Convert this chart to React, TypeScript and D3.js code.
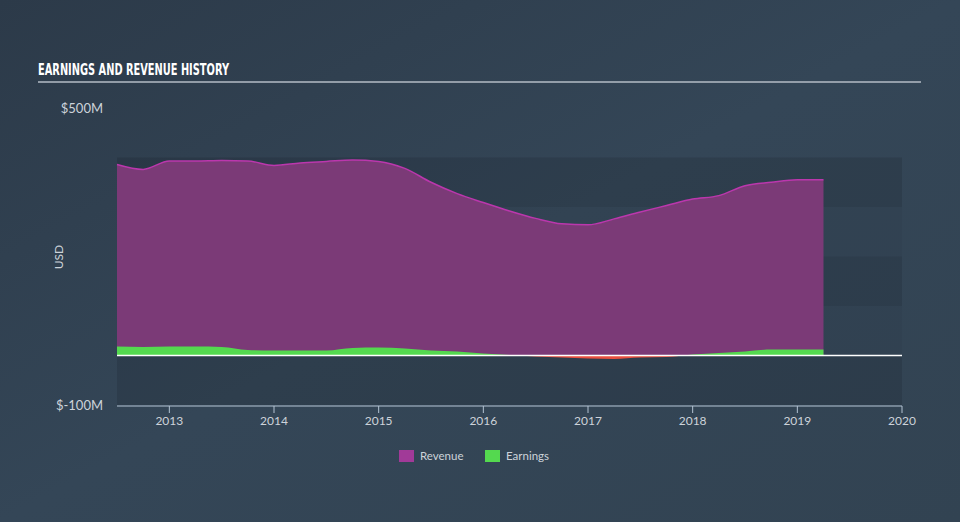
import React from "react";
import * as d3 from "d3";

const periods = [
  2012.5, 2012.75, 2013.0, 2013.25, 2013.5, 2013.75, 2014.0, 2014.25, 2014.5, 2014.75,
  2015.0, 2015.25, 2015.5, 2015.75, 2016.0, 2016.25, 2016.5, 2016.75, 2017.0, 2017.25,
  2017.5, 2017.75, 2018.0, 2018.25, 2018.5, 2018.75, 2019.0, 2019.25,
];
const revenue = [
  386, 376, 393, 393, 394, 393, 384, 389, 392, 395,
  392, 378, 350, 327, 309, 292, 277, 266, 264, 276,
  290, 303, 316, 323, 343, 350, 355, 355,
];
const earnings = [
  18, 17, 18, 18, 17, 11, 10, 10, 10, 15,
  16, 14, 10, 8, 4, 1, -2, -4, -6, -7,
  -4, -3, 2, 5, 8, 12, 12, 12,
];
const xTicks = [2013, 2014, 2015, 2016, 2017, 2018, 2019, 2020];
const yTickLabels = [
  { v: 500, label: "$500M" },
  { v: -100, label: "$-100M" },
];
const bands = [
  [300, 400],
  [100, 200],
  [-100, 0],
];
const legendItems = [
  { label: "Revenue", color: "#a13a98" },
  { label: "Earnings", color: "#54d94f" },
];

const W = 960;
const H = 522;
const FONT = "Lato, 'Open Sans', 'DejaVu Sans', sans-serif";

export default function App() {
  const x = d3.scaleLinear().domain([2012.5, 2020]).range([117, 902]);
  const y = d3.scaleLinear().domain([-100, 500]).range([405, 108]);
  const data = periods.map((p, i) => ({ p, r: revenue[i], e: earnings[i] }));

  const revArea = d3
    .area<any>()
    .x((d) => x(d.p))
    .y0(y(0))
    .y1((d) => y(d.r))
    .curve(d3.curveMonotoneX);
  const revLine = d3
    .line<any>()
    .x((d) => x(d.p))
    .y((d) => y(d.r))
    .curve(d3.curveMonotoneX);
  const earnArea = d3
    .area<any>()
    .x((d) => x(d.p))
    .y0(y(0))
    .y1((d) => y(d.e))
    .curve(d3.curveMonotoneX);

  const x0 = x(2012.5);
  const x1 = x(2020);

  return (
    <svg
      width={W}
      height={H}
      style={{ position: "absolute", left: 0, top: 0, display: "block" }}
      xmlns="http://www.w3.org/2000/svg"
    >
      <defs>
        <linearGradient id="bg" x1="0" y1="0" x2="1" y2="1">
          <stop offset="0%" stopColor="#2c3a49" />
          <stop offset="50%" stopColor="#344657" />
          <stop offset="100%" stopColor="#324352" />
        </linearGradient>
        <clipPath id="abovezero">
          <rect x={0} y={0} width={W} height={y(0)} />
        </clipPath>
        <clipPath id="belowzero">
          <rect x={0} y={y(0)} width={W} height={H - y(0)} />
        </clipPath>
      </defs>
      <rect x={0} y={0} width={W} height={H} fill="url(#bg)" />

      {/* title */}
      <text
        x={38}
        y={75}
        fill="#ffffff"
        fontFamily="'Liberation Sans Narrow', 'DejaVu Sans Condensed', 'Roboto Condensed', sans-serif"
        fontWeight="bold"
        fontSize={16}
        textLength={191}
        lengthAdjust="spacingAndGlyphs"
      >
        EARNINGS AND REVENUE HISTORY
      </text>
      <line x1={38} x2={921} y1={82} y2={82} stroke="#b4bcc6" strokeWidth={1.5} />

      {/* plot background */}
      <rect x={x0} y={y(400)} width={x1 - x0} height={y(-100) - y(400)} fill="rgba(0,0,0,0.035)" />
      {bands.map(([a, b], i) => (
        <rect
          key={i}
          x={x0}
          y={y(b)}
          width={x1 - x0}
          height={y(a) - y(b)}
          fill="rgba(0,0,0,0.07)"
        />
      ))}

      {/* revenue */}
      <path d={revArea(data) || ""} fill="#7b3a77" />
      <path d={revLine(data) || ""} fill="none" stroke="#bb37ad" strokeWidth={1.5} />

      {/* earnings */}
      <path d={earnArea(data) || ""} fill="#54d94f" clipPath="url(#abovezero)" />
      <path d={earnArea(data) || ""} fill="#e8503f" clipPath="url(#belowzero)" />

      {/* zero line */}
      <line x1={x0} x2={x1} y1={y(0)} y2={y(0)} stroke="#ffffff" strokeWidth={1.5} />

      {/* y labels */}
      {yTickLabels.map((t) => (
        <text
          key={t.label}
          x={103}
          y={y(t.v)}
          dy="0.35em"
          textAnchor="end"
          fill="#cdd3da"
          fontFamily={FONT}
          fontSize={13}
        >
          {t.label}
        </text>
      ))}
      <text
        transform={`translate(63,257) rotate(-90)`}
        textAnchor="middle"
        fill="#cdd3da"
        fontFamily={FONT}
        fontSize={12}
      >
        USD
      </text>

      {/* x axis */}
      <line x1={x0} x2={x1} y1={406} y2={406} stroke="#b4c3d3" strokeWidth={1.2} />
      {xTicks.map((t) => (
        <g key={t}>
          <line x1={x(t)} x2={x(t)} y1={406} y2={413} stroke="#b4c3d3" strokeWidth={1} />
          <text
            x={x(t)}
            y={425}
            textAnchor="middle"
            fill="#cdd3da"
            fontFamily={FONT}
            fontSize={12}
          >
            {t}
          </text>
        </g>
      ))}

      {/* legend */}
      {legendItems.map((it, i) => {
        const lx = i === 0 ? 399 : 485;
        return (
          <g key={it.label}>
            <rect x={lx} y={450} width={15} height={12} fill={it.color} />
            <text
              x={lx + 21}
              y={460}
              fill="#cdd3da"
              fontFamily={FONT}
              fontSize={11.5}
            >
              {it.label}
            </text>
          </g>
        );
      })}
    </svg>
  );
}
